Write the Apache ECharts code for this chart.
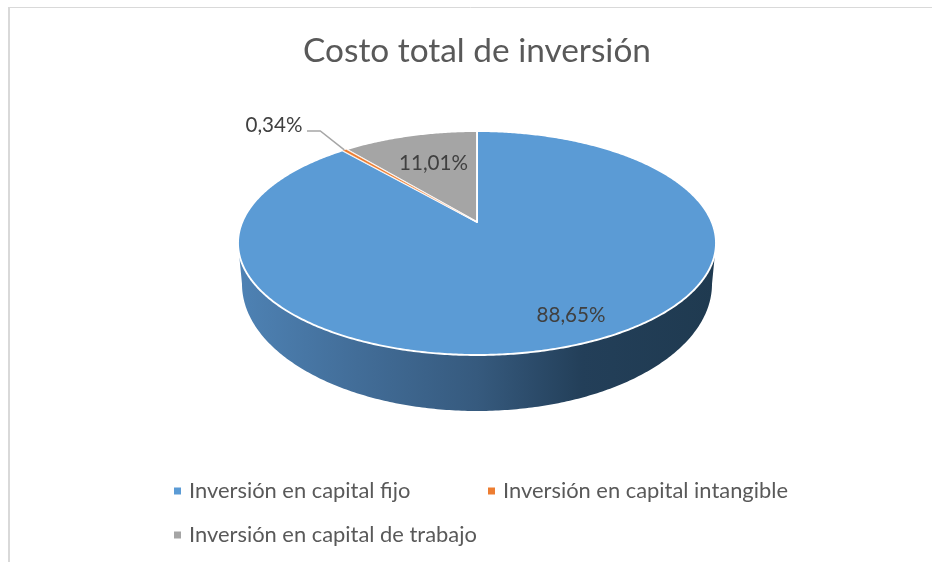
<!DOCTYPE html>
<html><head><meta charset="utf-8">
<style>html,body{margin:0;padding:0;background:#fff}#c{width:932px;height:562px}</style>
<script src="https://cdn.jsdelivr.net/npm/echarts@6/dist/echarts.min.js"></script>
</head><body><div id="c"></div>
<script>
const titleText = 'Costo total de inversión';
const categories = ['Inversión en capital fijo', 'Inversión en capital intangible', 'Inversión en capital de trabajo'];
const shares = [88.65, 0.34, 11.01];
const colors = ['#5b9bd5', '#ed7d31', '#a5a5a5'];

// Perspective view of the pie disc (layout only)
const FONT = 'Lato';
const view = { cx: 477, apexY: 222, topY: 131, botY: 355, halfW: 239, wallBotY: 411, wallMidY: 284, wallHalfW: 235 };
const labelAnchors = [[571, 315], [274, 125], [433.5, 163]];
const persp = (view.topY + view.botY - 2 * view.apexY) / (view.botY - view.topY);
const P = view.topY * (1 + persp) - view.apexY;
const R = view.halfW * Math.sqrt(1 - persp * persp);
function proj(r, th) {
  const u = Math.sin(th), v = Math.cos(th), d = 1 + persp * r * v;
  return [view.cx + R * r * u / d, (view.apexY + P * r * v) / d];
}
const total = shares.reduce((a, b) => a + b, 0);
let acc = 0;
const ranges = shares.map(s => { const a = acc / total * 2 * Math.PI; acc += s; return [a, acc / total * 2 * Math.PI]; });
const fmt = v => v.toFixed(2).replace('.', ',') + '%';

function sectorPoints(i) {
  const [a, b] = ranges[i], pts = [proj(0, 0)];
  const n = Math.max(2, Math.ceil((b - a) / 0.01));
  for (let k = 0; k <= n; k++) pts.push(proj(1, a + (b - a) * k / n));
  return pts;
}
function wallPoints() {
  const t0 = Math.acos(-persp), pts = [];
  const n = 240;
  for (let k = 0; k <= n; k++) pts.push(proj(1, t0 + (2 * Math.PI - 2 * t0) * k / n));
  for (let k = 0; k <= n; k++) {
    const ph = 1.5 * Math.PI - Math.PI * k / n;
    pts.push([view.cx + view.wallHalfW * Math.sin(ph), view.wallMidY - (view.wallBotY - view.wallMidY) * Math.cos(ph)]);
  }
  return pts;
}
function label(text, p) {
  return { type: 'text', style: { text, x: p[0], y: p[1], fill: '#404040', font: '20.6px ' + FONT, align: 'center', verticalAlign: 'middle' } };
}
const wallFill = new echarts.graphic.LinearGradient(238, 0, 716, 0, [
  { offset: 0, color: '#4e82b4' }, { offset: 0.25, color: '#426d98' }, { offset: 0.5, color: '#365a7e' },
  { offset: 0.72, color: '#233f59' }, { offset: 1, color: '#1f3a50' }], true);

function slice(i) {
  return function () {
    const children = [];
    if (i === 0) children.push({ type: 'polygon', shape: { points: wallPoints() }, style: { fill: wallFill } });
    children.push({ type: 'polygon', shape: { points: sectorPoints(i) },
      style: { fill: colors[i], stroke: '#fff', lineWidth: i === 1 ? 0.6 : 1.9, lineJoin: 'round' } });
    if (i === 1) {
      const rim = proj(1, (ranges[i][0] + ranges[i][1]) / 2);
      children.push({ type: 'polyline', shape: { points: [rim, [rim[0] - 24, 131], [307, 131]] },
        style: { stroke: '#a6a6a6', lineWidth: 1.5, fill: null } });
    }
    children.push(label(fmt(shares[i]), labelAnchors[i]));
    return { type: 'group', children };
  };
}
const zOrder = [1, 3, 2];
const series = categories.map((name, i) => ({
  type: 'custom', name, coordinateSystem: 'none', data: [shares[i]], z: zOrder[i], silent: true,
  itemStyle: { color: colors[i] }, renderItem: slice(i), clip: false
}));
const legendBase = { orient: 'horizontal', icon: 'rect', itemWidth: 7, itemHeight: 7, selectedMode: false,
  textStyle: { fontFamily: FONT, fontSize: 21.9, color: '#595959', padding: [0, 0, 0, 3] } };
const chart = echarts.init(document.getElementById('c'), null, { renderer: 'canvas' });
chart.setOption({
  animation: false,
  backgroundColor: '#fff',
  title: { text: titleText, left: 472, top: 30, textAlign: 'center',
    textStyle: { fontFamily: FONT, fontSize: 33.4, fontWeight: 'normal', color: '#595959' } },
  legend: [
    Object.assign({}, legendBase, { data: [categories[0]], left: 169, top: 475 }),
    Object.assign({}, legendBase, { data: [categories[1]], left: 483, top: 475 }),
    Object.assign({}, legendBase, { data: [categories[2]], left: 169, top: 519 })
  ],
  graphic: [
    { type: 'line', silent: true, shape: { x1: 9, y1: 7.5, x2: 932, y2: 7.5 }, style: { stroke: '#d9d9d9', lineWidth: 1 } },
    { type: 'line', silent: true, shape: { x1: 9, y1: 7, x2: 9, y2: 562 }, style: { stroke: '#d9d9d9', lineWidth: 2 } }
  ],
  series
});
</script></body></html>
